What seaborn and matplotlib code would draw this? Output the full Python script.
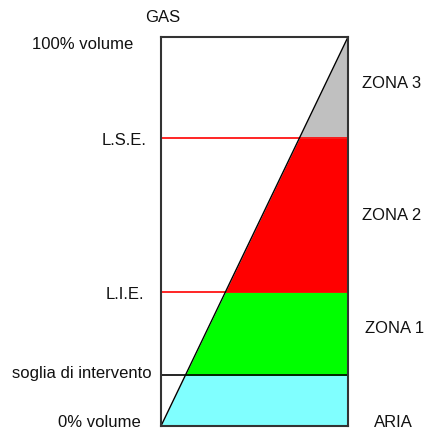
import numpy as np
import pandas as pd
import matplotlib
matplotlib.use('Agg')
import matplotlib.pyplot as plt
import seaborn as sns

# gas concentration levels (% volume) and zones
levels = [0, 13, 34.5, 74, 100]
zone_names = ['ARIA', 'ZONA 1', 'ZONA 2', 'ZONA 3']
zone_colors = ['#80FFFF', '#00FF00', '#FF0000', '#C0C0C0']
left_labels = ['0% volume', 'soglia di intervento', 'L.I.E.', 'L.S.E.', '100% volume']
line_colors = ['#000000', '#FF0000', '#FF0000']

sns.set_style('white')
plt.rcParams['font.family'] = ['Liberation Sans', 'DejaVu Sans']

fig = plt.figure(figsize=(4.38, 4.34), dpi=100)
ax = fig.add_axes([161 / 438, 8 / 434, 187 / 438, 389 / 434])

# diagonal: concentration grows from bottom-left to top-right
diag = pd.DataFrame({'y': np.array(levels, dtype=float)})
diag['x'] = diag['y'] / 100

for lo, hi, col in zip(levels[:-1], levels[1:], zone_colors):
    yy = np.array([lo, hi])
    ax.fill_betweenx(yy, yy / 100, 1, color=col, lw=0)

for lvl, col in zip(levels[1:4], line_colors):
    ax.axhline(lvl, color=col, lw=1.2)

sns.lineplot(data=diag, x='x', y='y', ax=ax, color='black', lw=1, sort=False)

ax.set_xlim(0, 1)
ax.set_ylim(0, 100)
ax.set_xticks([])
ax.set_yticks([])
ax.set_xlabel('')
ax.set_ylabel('')
for s in ax.spines.values():
    s.set_color('#333333')
    s.set_linewidth(1.5)

fs = 12
# left side labels
left_x = [-0.11, -0.048, -0.09, -0.08, -0.15]
left_y = [1, 13.6, 33.7, 73.5, 98]
for txt, x, y in zip(left_labels, left_x, left_y):
    ax.text(x, y, txt, transform=ax.get_yaxis_transform(), ha='right',
            va='center', fontsize=fs, color='#111111')

# right side zone labels
zone_x = [1.14, 1.09, 1.075, 1.075]
zone_y = [0.8, 25, 54, 88]
for txt, x, y in zip(zone_names, zone_x, zone_y):
    ax.text(x, y, txt, transform=ax.get_yaxis_transform(), ha='left',
            va='center', fontsize=fs, color='#111111')

ax.text(0.01, 104.9, 'GAS', transform=ax.get_yaxis_transform(), ha='center',
        va='center', fontsize=fs, color='#111111', clip_on=False)

fig.savefig('out.png', dpi=100)
